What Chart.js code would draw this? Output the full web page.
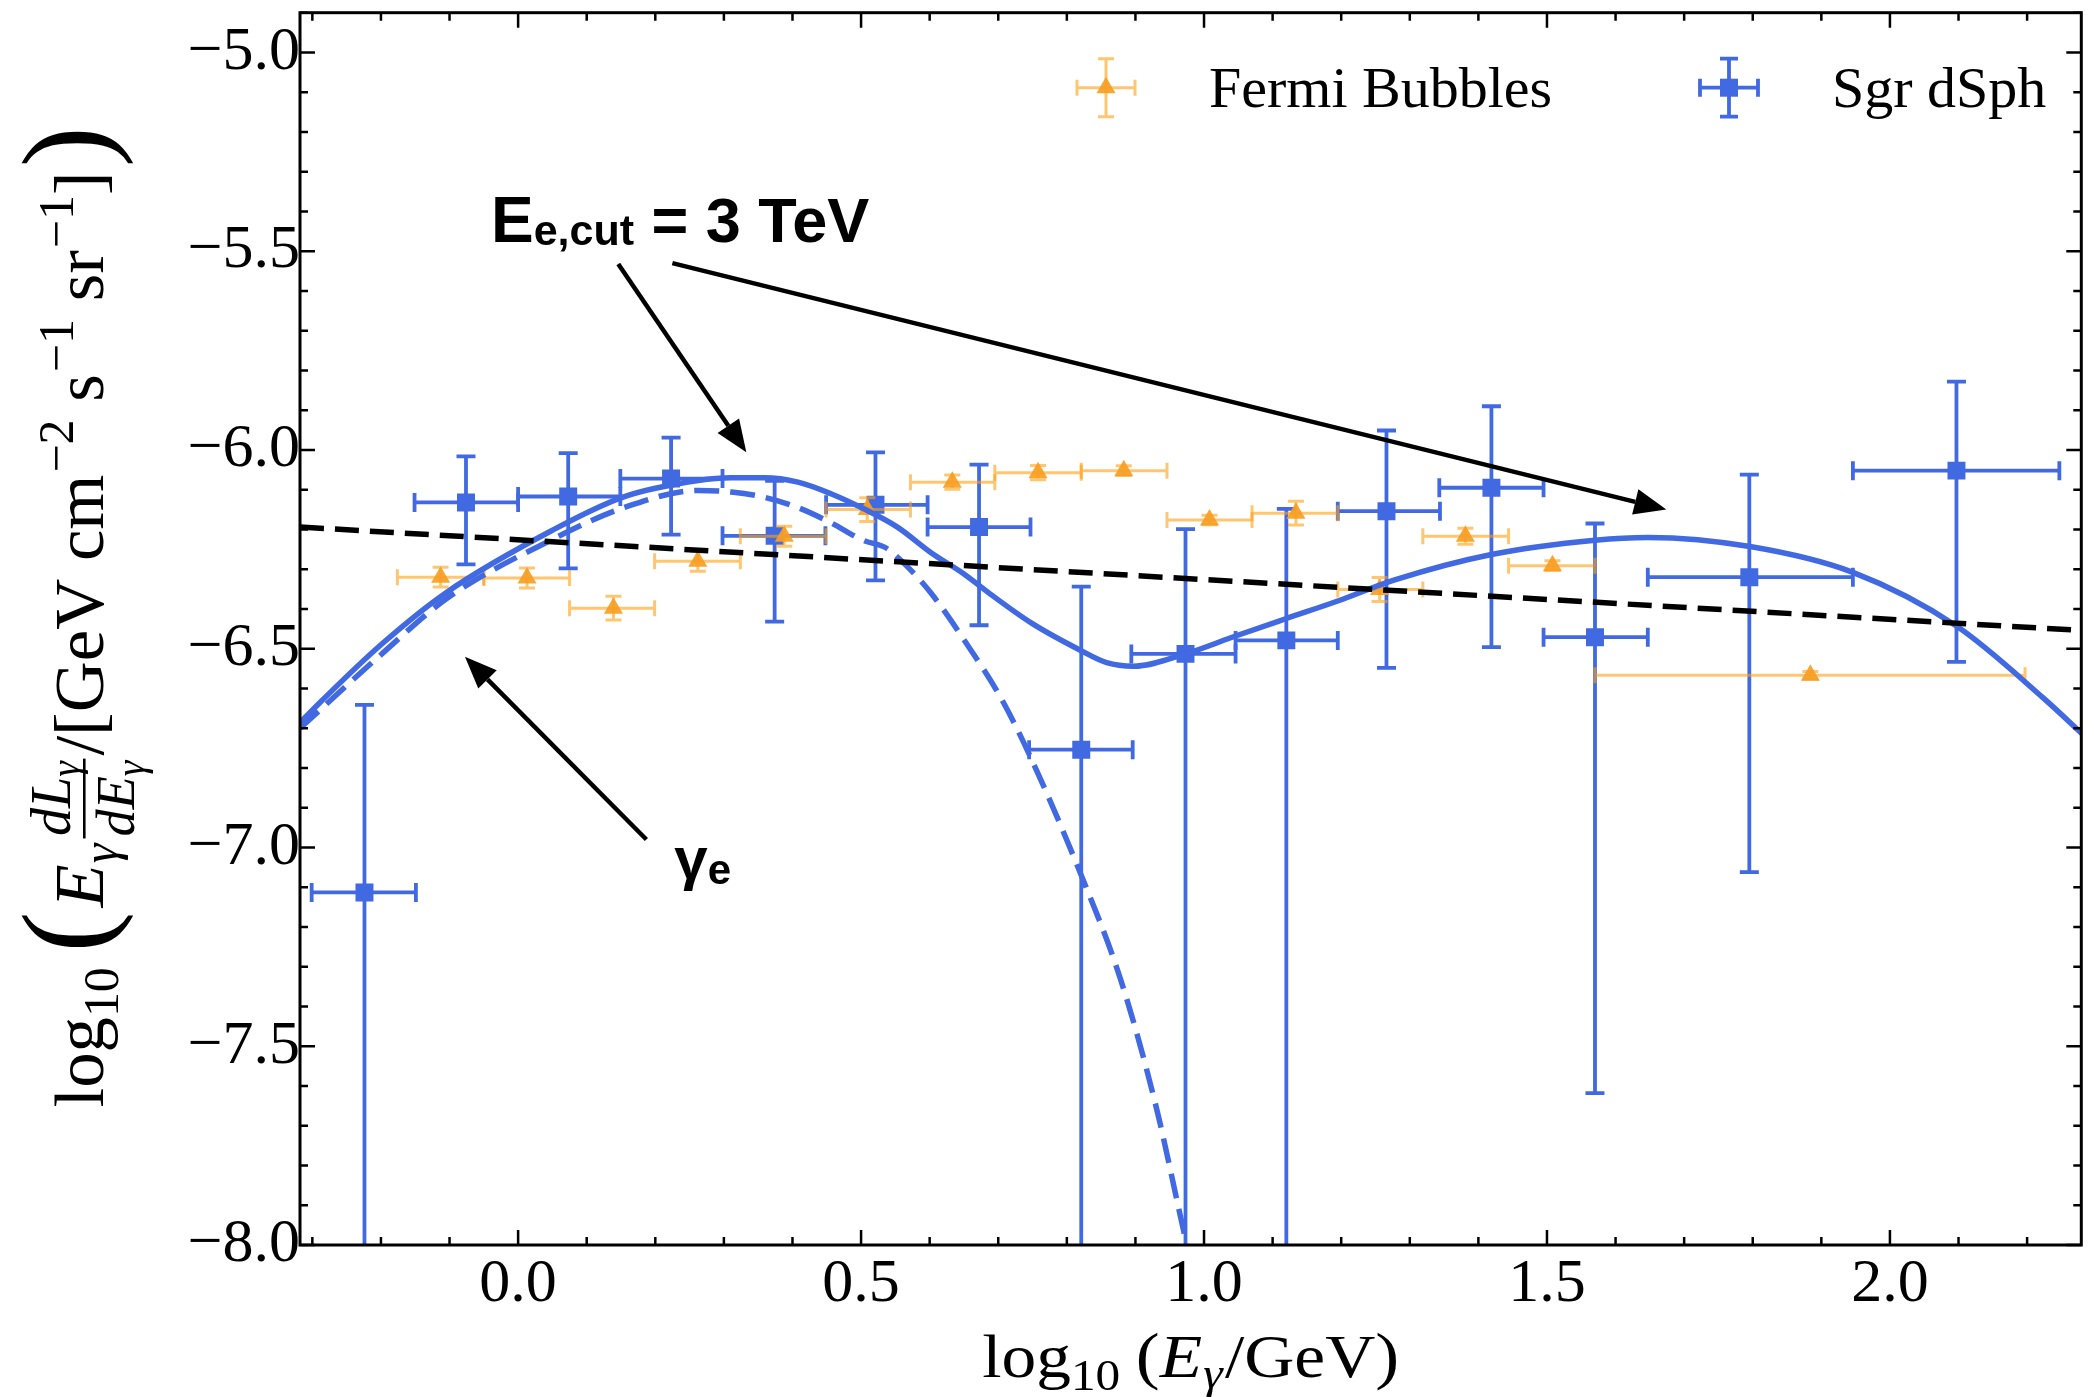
<!DOCTYPE html>
<html><head><meta charset="utf-8">
<script src="https://cdn.jsdelivr.net/npm/chart.js@4/dist/chart.umd.min.js"></script>
<style>html,body{margin:0;padding:0;background:#fff;}#wrap{width:2094px;height:1397px;}</style>
</head><body><div id="wrap"><canvas id="c" width="2094" height="1397"></canvas></div>
<script>
// ---------- data ----------
const xTicks = [0.0, 0.5, 1.0, 1.5, 2.0];
const yTicks = [-8.0, -7.5, -7.0, -6.5, -6.0, -5.5, -5.0];
const xRange = [-0.318, 2.279];
const yRange = [-8.0, -4.9];

// Sgr dSph (blue squares)
const sgrX   = [-0.224,-0.076, 0.073, 0.223, 0.374, 0.521, 0.672, 0.821, 0.973, 1.120, 1.266, 1.419, 1.570, 1.795, 2.097];
const sgrY   = [-7.113,-6.132,-6.117,-6.072,-6.216,-6.138,-6.194,-6.754,-6.513,-6.479,-6.154,-6.095,-6.471,-6.320,-6.052];
const sgrXLo = [-0.301,-0.151, 0.000, 0.149, 0.298, 0.449, 0.597, 0.745, 0.894, 1.046, 1.195, 1.343, 1.495, 1.647, 1.946];
const sgrXHi = [-0.149, 0.000, 0.149, 0.298, 0.448, 0.597, 0.747, 0.896, 1.046, 1.195, 1.344, 1.495, 1.647, 1.946, 2.247];
const sgrYHi = [-6.641,-6.016,-6.008,-5.969,-6.078,-6.006,-6.037,-6.344,-6.199,-6.148,-5.951,-5.890,-6.185,-6.062,-5.828];
const sgrYLo = [-8.5,  -6.288,-6.298,-6.213,-6.432,-6.328,-6.441,-8.5,  -8.5,  -8.5,  -6.548,-6.496,-7.618,-7.062,-6.533];

// Fermi Bubbles (orange triangles)
const fbX    = [-0.113, 0.013, 0.139, 0.262, 0.388, 0.509, 0.633, 0.758, 0.883, 1.008, 1.134, 1.256, 1.381, 1.508, 1.884];
const fbY    = [-6.320,-6.322,-6.398,-6.280,-6.217,-6.150,-6.081,-6.057,-6.052,-6.176,-6.159,-6.351,-6.217,-6.291,-6.567];
const fbXLo  = [-0.176,-0.050, 0.075, 0.199, 0.324, 0.449, 0.572, 0.695, 0.821, 0.946, 1.070, 1.195, 1.319, 1.444, 1.570];
const fbXHi  = [-0.050, 0.075, 0.199, 0.324, 0.449, 0.572, 0.695, 0.821, 0.946, 1.070, 1.195, 1.319, 1.444, 1.570, 2.197];
const fbYErr = [0.025, 0.025, 0.030, 0.025, 0.025, 0.030, 0.018, 0.018, 0.012, 0.012, 0.030, 0.030, 0.020, 0.012, 0.010];

// total model (solid blue)
const modelX = [-0.318,-0.287,-0.2,-0.105,0.05,0.154,0.2625,0.311,0.359,0.408,0.456,0.504,0.553,0.601,0.650,0.688,0.748,0.821,0.858,0.897,0.973,1.046,1.120,1.195,1.278,1.419,1.570,1.647,1.796,1.946,2.097,2.223,2.284];
const modelY = [-6.686,-6.632,-6.49,-6.359,-6.202,-6.118,-6.077,-6.070,-6.070,-6.081,-6.110,-6.148,-6.194,-6.257,-6.312,-6.362,-6.435,-6.505,-6.535,-6.544,-6.513,-6.468,-6.424,-6.380,-6.327,-6.263,-6.227,-6.220,-6.243,-6.308,-6.443,-6.623,-6.72];

// E_e,cut component (dashed blue)
const cutX = [-0.318,-0.2,-0.105,0.05,0.154,0.2625,0.311,0.359,0.408,0.456,0.504,0.536,0.563,0.601,0.651,0.703,0.745,0.821,0.878,0.929,0.975,0.985];
const cutY = [-6.70,-6.515,-6.375,-6.225,-6.145,-6.102,-6.106,-6.119,-6.145,-6.183,-6.228,-6.246,-6.286,-6.358,-6.48,-6.621,-6.765,-7.07,-7.33,-7.644,-8.0,-8.07];

// power-law (black dashed)
const plX = [-0.318, 2.279];
const plY = [-6.194, -6.454];

// annotations (data coordinates)
const arrows = [
  {from:[0.146,-5.532], to:[0.3327,-6.0055]},
  {from:[0.2249,-5.530], to:[1.674,-6.150]},
  {from:[0.187,-6.980], to:[-0.0775,-6.520]}
];
const labelCut = {x:-0.0396, y:-5.478};
const labelGamma = {x:0.2278, y:-7.080};

// ---------- helpers ----------
const BLUE = '#4169E1';
const ORANGE_BAR = 'rgba(255,160,20,0.6)';
const ORANGE_MK = 'rgba(247,158,35,0.92)';
const SERIF = '"Liberation Serif"';
const SANS = '"Liberation Sans"';
const R = s => `${s}px ${SERIF}`;
const I = s => `italic ${s}px ${SERIF}`;
const fmt = v => (v < 0 ? '\u2212' : '') + Math.abs(v).toFixed(1);
const pts = (xs, ys) => xs.map((x, i) => ({x, y: ys[i]}));

function seqWidth(ctx, seq) {
  let w = 0;
  for (const p of seq) {
    if (p.sp) { p._w = p.sp; w += p.sp; continue; }
    if (p.frac) {
      const nw = seqWidth(ctx, p.frac.num), dw = seqWidth(ctx, p.frac.den);
      p._nw = nw; p._dw = dw; p._w = Math.max(nw, dw) + 2 * (p.frac.pad || 0);
      w += p._w; continue;
    }
    ctx.font = p.f; p._w = ctx.measureText(p.t).width + (p.kern || 0);
    w += p._w;
  }
  return w;
}
function drawSeq(ctx, seq, x, y) {
  for (const p of seq) {
    if (p.sp) { x += p.sp; continue; }
    if (p.frac) {
      const fr = p.frac, W = p._w;
      drawSeq(ctx, fr.num, x + (W - p._nw) / 2, y + fr.numDy);
      drawSeq(ctx, fr.den, x + (W - p._dw) / 2, y + fr.denDy);
      ctx.save(); ctx.lineWidth = fr.barW || 2.5; ctx.beginPath();
      ctx.moveTo(x + 1, y + fr.barDy); ctx.lineTo(x + W - 1, y + fr.barDy); ctx.stroke(); ctx.restore();
      x += W; continue;
    }
    ctx.font = p.f; ctx.fillText(p.t, x, y + (p.dy || 0));
    x += p._w;
  }
}

// ---------- plugins ----------
const errorBars = {
  id: 'errorBars',
  beforeDatasetDraw(chart, args) {
    const ds = chart.data.datasets[args.index];
    if (!ds.err) return;
    const {ctx, chartArea: a, scales: {x: xs, y: ys}} = chart;
    const e = ds.err;
    ctx.save();
    ctx.beginPath(); ctx.rect(a.left, a.top, a.right - a.left, a.bottom - a.top); ctx.clip();
    ctx.strokeStyle = e.color; ctx.lineWidth = e.width; ctx.lineCap = 'butt';
    ds.data.forEach((p, i) => {
      const px = xs.getPixelForValue(p.x), py = ys.getPixelForValue(p.y);
      const x0 = xs.getPixelForValue(e.xlo[i]), x1 = xs.getPixelForValue(e.xhi[i]);
      const y0 = ys.getPixelForValue(e.ylo[i]), y1 = ys.getPixelForValue(e.yhi[i]);
      const c = e.cap;
      ctx.beginPath();
      ctx.moveTo(x0, py); ctx.lineTo(x1, py);
      ctx.moveTo(px, y0); ctx.lineTo(px, y1);
      ctx.moveTo(x0, py - c); ctx.lineTo(x0, py + c);
      ctx.moveTo(x1, py - c); ctx.lineTo(x1, py + c);
      ctx.moveTo(px - c, y0); ctx.lineTo(px + c, y0);
      ctx.moveTo(px - c, y1); ctx.lineTo(px + c, y1);
      ctx.stroke();
    });
    ctx.restore();
  }
};

function drawArrow(ctx, x0, y0, x1, y1) {
  const ang = Math.atan2(y1 - y0, x1 - x0), L = 32, H = 13;
  const bx = x1 - L * Math.cos(ang), by = y1 - L * Math.sin(ang);
  ctx.beginPath(); ctx.moveTo(x0, y0); ctx.lineTo(bx, by); ctx.stroke();
  ctx.beginPath(); ctx.moveTo(x1, y1);
  ctx.lineTo(bx + H * Math.sin(ang), by - H * Math.cos(ang));
  ctx.lineTo(bx - H * Math.sin(ang), by + H * Math.cos(ang));
  ctx.closePath(); ctx.fill();
}

function errMarker(ctx, cx, cy, color, lw, half, cap, shape, mcolor) {
  ctx.save(); ctx.strokeStyle = color; ctx.lineWidth = lw;
  ctx.beginPath();
  ctx.moveTo(cx - half, cy); ctx.lineTo(cx + half, cy);
  ctx.moveTo(cx, cy - half); ctx.lineTo(cx, cy + half);
  ctx.moveTo(cx - half, cy - cap); ctx.lineTo(cx - half, cy + cap);
  ctx.moveTo(cx + half, cy - cap); ctx.lineTo(cx + half, cy + cap);
  ctx.moveTo(cx - cap, cy - half); ctx.lineTo(cx + cap, cy - half);
  ctx.moveTo(cx - cap, cy + half); ctx.lineTo(cx + cap, cy + half);
  ctx.stroke();
  ctx.fillStyle = mcolor;
  if (shape === 'rect') { ctx.fillRect(cx - 9, cy - 9, 18, 18); }
  else { const r = 11; ctx.beginPath(); ctx.moveTo(cx, cy - r); ctx.lineTo(cx + r * 0.866, cy + r / 2); ctx.lineTo(cx - r * 0.866, cy + r / 2); ctx.closePath(); ctx.fill(); }
  ctx.restore();
}

const decor = {
  id: 'decor',
  afterDraw(chart) {
    const {ctx, chartArea: a, scales: {x: xs, y: ys}} = chart;
    ctx.save();
    // frame
    ctx.strokeStyle = '#000'; ctx.lineWidth = 3;
    ctx.strokeRect(a.left, a.top, a.right - a.left, a.bottom - a.top);
    // ticks (inward, all sides)
    ctx.lineWidth = 2.5;
    ctx.beginPath();
    for (let k = Math.ceil(xRange[0] * 10); k <= Math.floor(xRange[1] * 10); k++) {
      const v = k / 10, px = xs.getPixelForValue(v), major = (k % 5 === 0), L = major ? 15 : 8;
      ctx.moveTo(px, a.bottom); ctx.lineTo(px, a.bottom - L);
      ctx.moveTo(px, a.top); ctx.lineTo(px, a.top + L);
    }
    for (let k = Math.ceil(yRange[0] * 10); k <= Math.floor(yRange[1] * 10); k++) {
      const v = k / 10, py = ys.getPixelForValue(v), major = (k % 5 === 0), L = major ? 15 : 8;
      ctx.moveTo(a.left, py); ctx.lineTo(a.left + L, py);
      ctx.moveTo(a.right, py); ctx.lineTo(a.right - L, py);
    }
    ctx.stroke();

    // legend
    const ly = a.top + 75;
    errMarker(ctx, a.left + 806, ly, ORANGE_BAR, 3, 29, 8, 'tri', ORANGE_MK);
    errMarker(ctx, a.left + 1429, ly, BLUE, 3.8, 29, 9, 'rect', BLUE);
    ctx.fillStyle = '#000'; ctx.font = R(58); ctx.textBaseline = 'alphabetic';
    ctx.fillText('Fermi Bubbles', a.left + 909, a.top + 94);
    ctx.fillText('Sgr dSph', a.left + 1532, a.top + 94);

    // annotations
    ctx.strokeStyle = '#000'; ctx.fillStyle = '#000'; ctx.lineWidth = 4.5;
    arrows.forEach(ar => drawArrow(ctx, xs.getPixelForValue(ar.from[0]), ys.getPixelForValue(ar.from[1]),
                                        xs.getPixelForValue(ar.to[0]), ys.getPixelForValue(ar.to[1])));
    const cx = xs.getPixelForValue(labelCut.x), cy = ys.getPixelForValue(labelCut.y);
    const cutSeq = [{t:'E', f:`bold 64px ${SANS}`}, {t:'e,cut', f:`bold 43px ${SANS}`, dy:3}, {t:' = 3 TeV', f:`bold 63px ${SANS}`}];
    seqWidth(ctx, cutSeq); drawSeq(ctx, cutSeq, cx, cy);
    const gx = xs.getPixelForValue(labelGamma.x), gy = ys.getPixelForValue(labelGamma.y);
    const gSeq = [{t:'\u03b3', f:`bold 60px ${SANS}`}, {t:'e', f:`bold 42px ${SANS}`, dy:5}];
    seqWidth(ctx, gSeq); drawSeq(ctx, gSeq, gx, gy);

    // x axis title (horizontal stretch to the reference span)
    const xt = [{t:'log', f:R(62)}, {t:'10', f:R(44), dy:13}, {sp:14}, {t:'(', f:R(64)}, {t:'E', f:I(62)}, {sp:1},
                {t:'\u03b3', f:I(44), dy:11}, {sp:2}, {t:'/', f:R(62)}, {t:'GeV', f:R(62)}, {t:')', f:R(64)}];
    const xw = seqWidth(ctx, xt);
    const sx = Math.min(1.15, Math.max(0.9, 417 / xw));
    ctx.save(); ctx.translate((a.left + a.right) / 2, 1377); ctx.scale(sx, 1);
    drawSeq(ctx, xt, -xw / 2, 0); ctx.restore();

    // y axis title (rotated, uniformly scaled to the reference span)
    const yt = [
      {t:'log', f:R(68)}, {t:'10', f:R(48), dy:14}, {sp:14},
      {t:'(', f:R(118), dy:4}, {sp:4},
      {t:'E', f:I(68)}, {sp:1}, {t:'\u03b3', f:I(48), dy:13}, {sp:4},
      {frac:{num:[{t:'dL', f:I(54)}, {t:'\u03b3', f:I(38), dy:9}],
             den:[{t:'dE', f:I(52)}, {t:'\u03b3', f:I(38), dy:9}],
             numDy:-32, denDy:30, barDy:-18, pad:3}},
      {sp:2}, {t:'/[GeV', f:R(68)}, {sp:17}, {t:'cm', f:R(68)}, {sp:2}, {t:'\u22122', f:R(48), dy:-29},
      {sp:17}, {t:'s', f:R(68)}, {sp:2}, {t:'\u22121', f:R(48), dy:-29},
      {sp:17}, {t:'sr', f:R(68)}, {sp:2}, {t:'\u22121', f:R(48), dy:-29},
      {t:']', f:R(68)}, {sp:4}, {t:')', f:R(118), dy:4}
    ];
    const yw = seqWidth(ctx, yt);
    const k = Math.min(1.2, Math.max(0.85, 981 / yw));
    ctx.save(); ctx.translate(103, 617); ctx.rotate(-Math.PI / 2); ctx.scale(k, k);
    drawSeq(ctx, yt, -yw / 2, 0);
    ctx.restore();
    ctx.restore();
  }
};

// ---------- chart ----------
const tickFont = {family: 'Liberation Serif', size: 62};
const zeroPad = s => { s.paddingTop = 0; s.paddingBottom = 0; s.paddingLeft = 0; s.paddingRight = 0; };
new Chart(document.getElementById('c'), {
  type: 'scatter',
  data: {
    datasets: [
      {label: 'power law', data: pts(plX, plY), showLine: true, borderColor: '#000', borderWidth: 5.5,
       borderDash: [24, 11], pointRadius: 0, order: 1},
      {label: 'E_e,cut = 3 TeV', data: pts(cutX, cutY), showLine: true, borderColor: BLUE, borderWidth: 5.5,
       borderDash: [25, 11], pointRadius: 0, cubicInterpolationMode: 'monotone', order: 2},
      {label: 'total', data: pts(modelX, modelY), showLine: true, borderColor: BLUE, borderWidth: 5.5,
       pointRadius: 0, cubicInterpolationMode: 'monotone', order: 3},
      {label: 'Fermi Bubbles', data: pts(fbX, fbY), pointStyle: 'triangle', pointRadius: 11,
       backgroundColor: ORANGE_MK, borderColor: ORANGE_MK, borderWidth: 0, order: 4,
       err: {xlo: fbXLo, xhi: fbXHi, ylo: fbY.map((v, i) => v - fbYErr[i]), yhi: fbY.map((v, i) => v + fbYErr[i]),
             color: ORANGE_BAR, width: 3, cap: 8}},
      {label: 'Sgr dSph', data: pts(sgrX, sgrY), pointStyle: 'rect', pointRadius: 12.7,
       backgroundColor: BLUE, borderColor: BLUE, borderWidth: 0, order: 5,
       err: {xlo: sgrXLo, xhi: sgrXHi, ylo: sgrYLo, yhi: sgrYHi, color: BLUE, width: 3.8, cap: 9.5}}
    ]
  },
  options: {
    responsive: false, animation: false, devicePixelRatio: 1,
    layout: {padding: {left: 0, top: 12, right: 2, bottom: 0}},
    plugins: {legend: {display: false}, tooltip: {enabled: false}},
    scales: {
      x: {type: 'linear', min: xRange[0], max: xRange[1],
          grid: {display: false, drawTicks: false}, border: {display: false},
          ticks: {font: tickFont, color: '#000', padding: 3, maxRotation: 0, callback: v => fmt(v)},
          afterBuildTicks: s => { s.ticks = xTicks.map(v => ({value: v})); },
          afterFit: s => { s.height = 152; zeroPad(s); }},
      y: {type: 'linear', min: yRange[0], max: yRange[1],
          grid: {display: false, drawTicks: false}, border: {display: false},
          ticks: {font: tickFont, color: '#000', padding: 0, callback: v => fmt(v)},
          afterBuildTicks: s => { s.ticks = yTicks.map(v => ({value: v})); },
          afterFit: s => { s.width = 300; zeroPad(s); }}
    }
  },
  plugins: [errorBars, decor]
});
</script></body></html>
